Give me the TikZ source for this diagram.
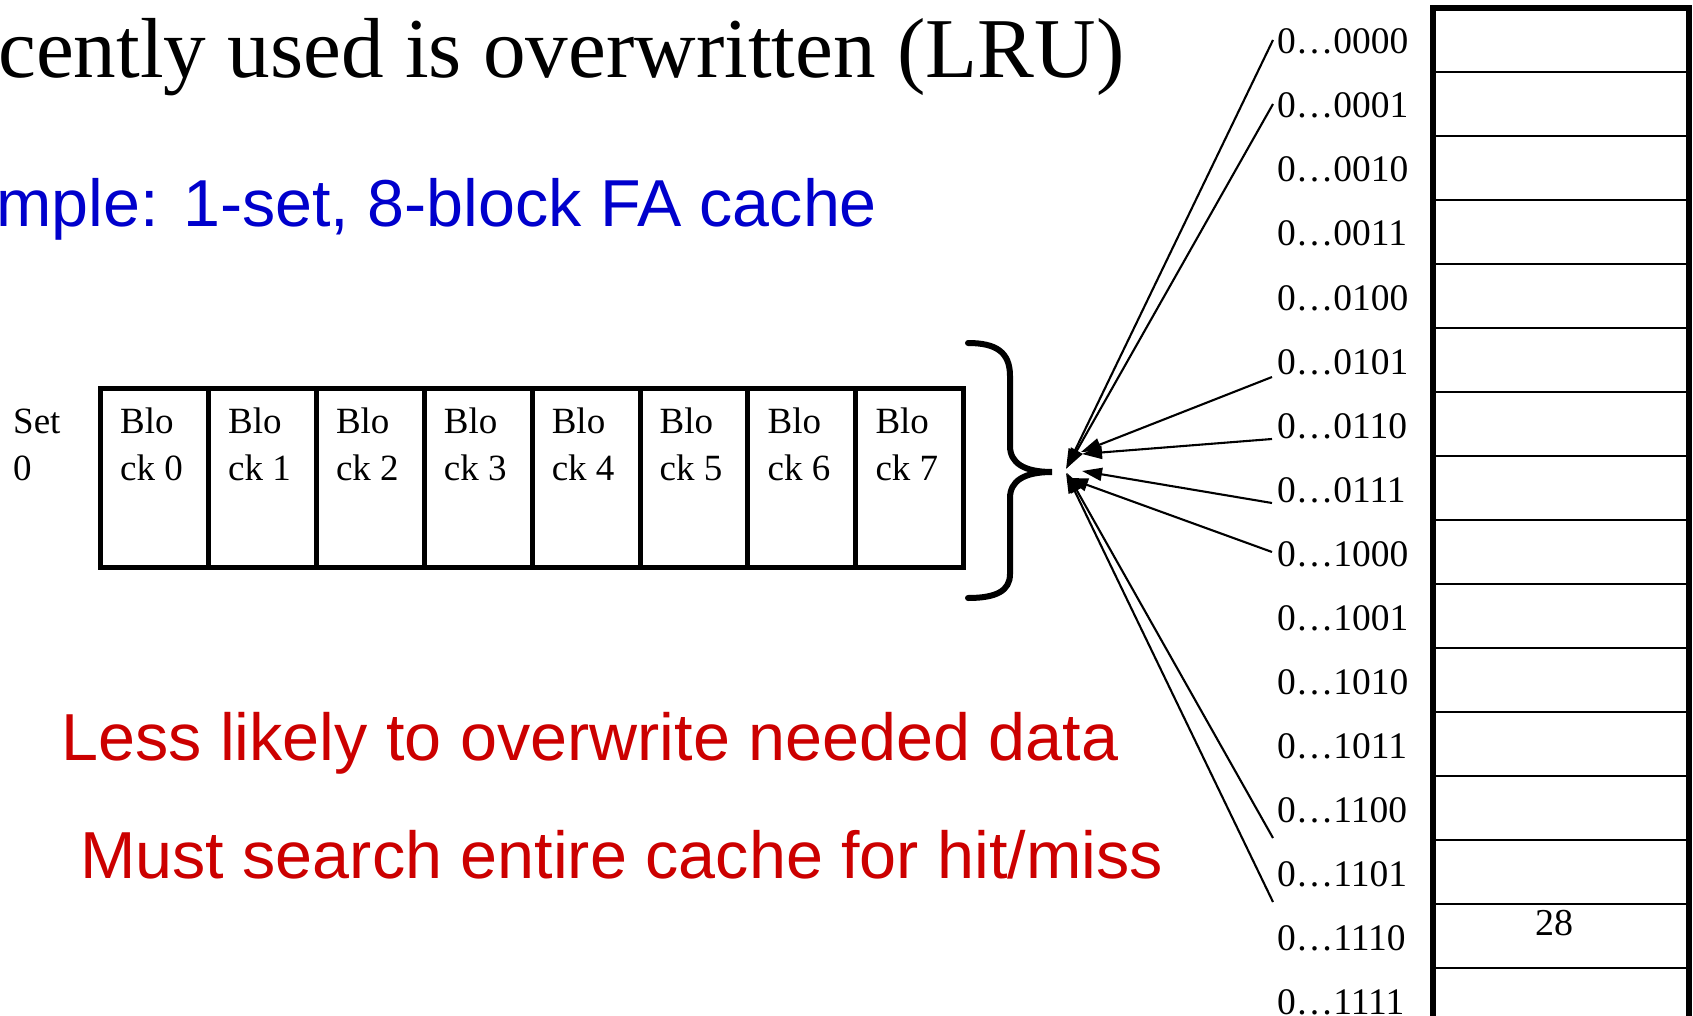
\documentclass[tikz,border=0pt]{standalone}
\usepackage{fontspec}
\setmainfont{Liberation Serif}
\newfontfamily\sansf{Liberation Sans}
\usetikzlibrary{arrows.meta}
\definecolor{slideblue}{HTML}{0000CC}
\definecolor{slidered}{HTML}{CC0000}

\begin{document}
\begin{tikzpicture}[x=1pt,y=-1pt,
  cell/.style={draw, line width=5pt, minimum width=107.9pt, minimum height=179.5pt,
    inner sep=0pt, outer sep=0pt},
  memrow/.style={draw, line width=2.5pt, minimum width=256pt, minimum height=64pt,
    inner sep=0pt, outer sep=0pt},
  small/.style={font=\fontsize{37}{40}\selectfont, inner sep=0pt, anchor=base west},
  addr/.style={font=\fontsize{37.5}{40}\selectfont, inner sep=0pt, anchor=base west},
  heading/.style={font=\fontsize{85.2}{90}\selectfont, inner sep=0pt, anchor=base west},
  bigsans/.style={font=\sansf\fontsize{66.4}{72}\selectfont, inner sep=0pt, anchor=base west},
  remark/.style={font=\sansf\fontsize{66.5}{72}\selectfont, inner sep=0pt, anchor=base west,
    text=slidered},
  link/.style={line width=2.1pt, -{Triangle[length=20pt,width=13pt]}},
  border/.style={line width=6pt},
  bracket/.style={line width=6pt, line cap=round}]

\useasboundingbox (0,0) rectangle (1693,1016);
\clip (0,0) rectangle (1693,1016);
\fill[white] (0,0) rectangle (1693,1016);

% heading lines
\node[heading] (title) at (-2,78) {cently used is overwritten (LRU)};
\node[bigsans, text=slideblue] (example) at (-4,227) {mple: 1-set, 8-block FA cache};

% the single set of eight blocks
\node[small] (setA) at (13,433) {Set};
\node[small] (setB) at (13,480) {0};
\foreach \i in {0,...,7} {
  \node[cell] (b\i) at ({100.5+107.9*(\i+0.5)},477.75) {};
  \node[small] (bt\i) at ({120+107.9*\i},433) {Blo};
  \node[small] (bb\i) at ({120+107.9*\i},480) {ck \i};
}

% brace gathering the set
\draw[bracket] (968,343) .. controls (996,343) and (1010,352) .. (1010,376)
  -- (1010,446) .. controls (1010,463) and (1024,472) .. (1052,472)
  .. controls (1024,472) and (1010,481) .. (1010,498)
  -- (1010,574) .. controls (1010,591) and (996,598) .. (968,598);

% main memory column
\foreach \i in {0,...,15} {
  \node[memrow] (m\i) at (1561,{40+64*\i}) {};
}
\draw[border] (m15.south west) -- (m0.north west) -- (m0.north east) -- (m15.south east);
\node[font=\fontsize{38}{42}\selectfont, inner sep=0pt, anchor=base] (val) at (1554,935) {28};

% addresses
\foreach \i/\a in {0/0000,1/0001,2/0010,3/0011,4/0100,5/0101,6/0110,7/0111,
                   8/1000,9/1001,10/1010,11/1011,12/1100,13/1101,14/1110,15/1111} {
  \node[addr] (a\i) at (1277,{54+64*\i}) {0…\a};
}

% arrows from addresses into the set
\coordinate (s0) at (1273,40);   \coordinate (t0) at (1066,469);
\coordinate (s1) at (1273,104);  \coordinate (t1) at (1067,468);
\coordinate (s5) at (1272,377);  \coordinate (t5) at (1081,452);
\coordinate (s6) at (1272,439);  \coordinate (t6) at (1082,454);
\coordinate (s7) at (1272,503);  \coordinate (t7) at (1082,471);
\coordinate (s8) at (1272,552);  \coordinate (t8) at (1068,478);
\coordinate (s12) at (1273,838); \coordinate (t12) at (1067,473);
\coordinate (s13) at (1273,902); \coordinate (t13) at (1066,473);
\foreach \k in {0,1,5,6,7,8,12,13} {
  \draw[link] (s\k) -- (t\k);
}

% remarks
\node[remark] (less) at (61,760) {Less likely to overwrite needed data};
\node[remark] (must) at (80,878) {Must search entire cache for hit/miss};
\end{tikzpicture}
\end{document}
